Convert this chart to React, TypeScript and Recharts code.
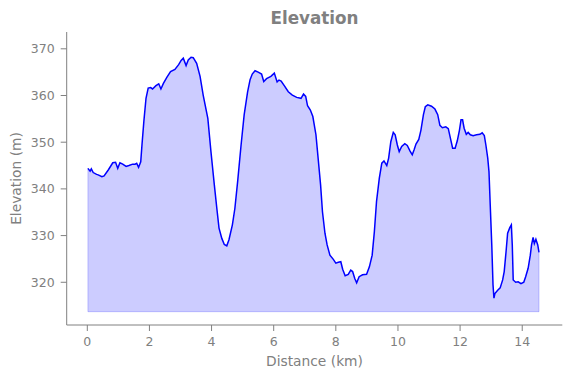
import React from 'react';
import { ComposedChart, Area, Line, XAxis, YAxis, ReferenceLine } from 'recharts';

const distanceKm = [
  0.02, 0.09, 0.13, 0.19, 0.30, 0.35, 0.47, 0.54, 0.68, 0.82, 0.91, 0.98, 1.05, 1.14, 1.25, 1.34, 1.46, 1.54, 1.59, 1.65,
  1.72, 1.76, 1.82, 1.89, 1.96, 2.04, 2.10, 2.21, 2.30, 2.37, 2.45, 2.56, 2.68, 2.82, 2.94, 3.02, 3.09, 3.18, 3.25, 3.34,
  3.41, 3.52, 3.63, 3.73, 3.88, 3.98, 4.09, 4.17, 4.24, 4.33, 4.41, 4.49, 4.56, 4.67, 4.75, 4.84, 4.95, 5.05, 5.16, 5.24,
  5.31, 5.40, 5.50, 5.61, 5.68, 5.77, 5.91, 6.02, 6.11, 6.17, 6.24, 6.34, 6.47, 6.60, 6.74, 6.88, 6.96, 7.03, 7.09, 7.18,
  7.26, 7.36, 7.43, 7.51, 7.57, 7.65, 7.72, 7.81, 7.92, 8.00, 8.08, 8.16, 8.22, 8.30, 8.40, 8.48, 8.54, 8.61, 8.67, 8.75,
  8.86, 8.99, 9.08, 9.17, 9.24, 9.31, 9.40, 9.48, 9.55, 9.64, 9.70, 9.77, 9.85, 9.91, 9.98, 10.04, 10.12, 10.22, 10.30, 10.39,
  10.46, 10.52, 10.58, 10.67, 10.74, 10.82, 10.88, 10.96, 11.08, 11.19, 11.28, 11.35, 11.43, 11.54, 11.62, 11.70, 11.76, 11.84, 11.91, 11.98,
  12.03, 12.08, 12.13, 12.20, 12.26, 12.33, 12.42, 12.53, 12.64, 12.71, 12.78, 12.83, 12.89, 12.93, 12.97, 13.02, 13.06, 13.09, 13.12, 13.21,
  13.29, 13.37, 13.42, 13.48, 13.53, 13.60, 13.65, 13.68, 13.71, 13.79, 13.87, 13.96, 14.05, 14.11, 14.19, 14.26, 14.30, 14.35, 14.39, 14.44,
  14.50, 14.54,
];

const elevationM = [
  344.4, 343.8, 344.3, 343.5, 343.1, 343.0, 342.6, 342.8, 344.1, 345.6, 345.7, 344.4, 345.6, 345.3, 344.8, 345.0, 345.3, 345.3, 345.5, 344.6,
  345.8, 349.4, 354.4, 359.4, 361.6, 361.7, 361.4, 362.1, 362.5, 361.4, 362.6, 363.9, 365.1, 365.6, 366.6, 367.5, 368.0, 366.4, 367.6, 368.2,
  368.1, 366.9, 364.1, 360.1, 355.1, 348.0, 340.8, 335.8, 331.6, 329.4, 328.1, 327.8, 329.1, 332.3, 335.8, 341.6, 349.4, 355.9, 360.8, 363.4,
  364.6, 365.3, 365.0, 364.6, 363.0, 363.6, 364.1, 364.8, 362.9, 363.3, 363.1, 362.1, 360.8, 360.1, 359.6, 359.4, 360.3, 359.8, 357.8, 356.9,
  355.5, 351.6, 346.6, 340.8, 335.1, 330.5, 328.0, 325.8, 324.9, 324.1, 324.3, 324.4, 322.8, 321.4, 321.7, 322.6, 322.3, 320.8, 319.9, 321.2,
  321.6, 321.7, 323.3, 325.8, 330.8, 337.3, 342.3, 345.5, 346.0, 345.0, 346.6, 350.1, 352.1, 351.6, 349.4, 348.0, 349.1, 349.7, 349.3, 348.1,
  347.3, 348.4, 349.6, 350.6, 352.6, 355.9, 357.6, 358.0, 357.7, 357.1, 355.9, 353.6, 353.1, 353.3, 352.9, 350.5, 348.7, 348.7, 350.3, 352.6,
  354.8, 354.8, 353.0, 351.7, 352.1, 351.6, 351.4, 351.6, 351.7, 352.0, 351.4, 349.4, 346.6, 343.7, 336.6, 328.0, 319.4, 316.6, 317.6, 318.3,
  318.8, 320.5, 322.3, 326.6, 330.5, 331.7, 332.3, 328.0, 320.5, 320.0, 320.1, 319.7, 320.0, 321.2, 323.0, 325.8, 328.0, 329.6, 328.3, 329.2,
  328.0, 326.4,
];

const BASELINE = 313.7;
const xTicks = [0, 2, 4, 6, 8, 10, 12, 14];
const yTicks = [320, 330, 340, 350, 360, 370];
const TITLE = 'Elevation';
const X_LABEL = 'Distance (km)';
const Y_LABEL = 'Elevation (m)';

const data = distanceKm.map((d, i) => ({ d, e: elevationM[i] }));

const GREY = '#808080';
const FONT = "'DejaVu Sans', sans-serif";

export default function App() {
  const W = 571;
  const H = 378;
  const firstX = distanceKm[0];
  const lastX = distanceKm[distanceKm.length - 1];
  const lastY = elevationM[elevationM.length - 1];
  const firstY = elevationM[0];
  return (
    <div style={{ position: 'absolute', left: 0, top: 0, width: W, height: H, background: '#fff' }}>
      <ComposedChart
        width={W}
        height={H}
        data={data}
        margin={{ top: 32, right: 8.7, left: 0, bottom: 0 }}
      >
        <XAxis
          dataKey="d"
          type="number"
          domain={[-0.663, 15.29]}
          ticks={xTicks}
          allowDataOverflow
          height={53}
          tickSize={6}
          tickMargin={6}
          stroke={GREY}
          tick={{ fill: GREY, fontSize: 12.5, fontFamily: FONT }}
          tickLine={{ stroke: GREY }}
          axisLine={{ stroke: GREY }}
        />
        <YAxis
          type="number"
          domain={[310.85, 373.6]}
          ticks={yTicks}
          allowDataOverflow
          width={66.7}
          tickSize={6}
          tickMargin={6}
          stroke={GREY}
          tick={{ fill: GREY, fontSize: 12.5, fontFamily: FONT }}
          tickLine={{ stroke: GREY }}
          axisLine={{ stroke: GREY }}
        />
        <Area
          dataKey="e"
          type="linear"
          baseValue={BASELINE}
          fill="#0000ff"
          fillOpacity={0.2}
          stroke="none"
          isAnimationActive={false}
          dot={false}
          activeDot={false}
        />
        <ReferenceLine
          segment={[{ x: firstX, y: BASELINE }, { x: lastX, y: BASELINE }]}
          stroke="#0000ff"
          strokeOpacity={0.2}
          strokeWidth={1}
        />
        <ReferenceLine
          segment={[{ x: firstX, y: BASELINE }, { x: firstX, y: firstY }]}
          stroke="#0000ff"
          strokeOpacity={0.2}
          strokeWidth={1}
        />
        <ReferenceLine
          segment={[{ x: lastX, y: BASELINE }, { x: lastX, y: lastY }]}
          stroke="#0000ff"
          strokeOpacity={0.2}
          strokeWidth={1}
        />
        <Line
          dataKey="e"
          type="linear"
          stroke="#0000ff"
          strokeWidth={1.5}
          dot={false}
          activeDot={false}
          isAnimationActive={false}
        />
      </ComposedChart>
      <svg
        width={W}
        height={H}
        style={{ position: 'absolute', left: 0, top: 0, pointerEvents: 'none' }}
      >
        <text x={314.5} y={24.3} textAnchor="middle" fill={GREY} fontFamily={FONT} fontSize={16.8} fontWeight="bold">
          {TITLE}
        </text>
        <text x={314.5} y={366.3} textAnchor="middle" fill={GREY} fontFamily={FONT} fontSize={13.8}>
          {X_LABEL}
        </text>
        <text
          x={21}
          y={178.5}
          textAnchor="middle"
          fill={GREY}
          fontFamily={FONT}
          fontSize={13.8}
          transform="rotate(-90 21 178.5)"
        >
          {Y_LABEL}
        </text>
      </svg>
    </div>
  );
}
